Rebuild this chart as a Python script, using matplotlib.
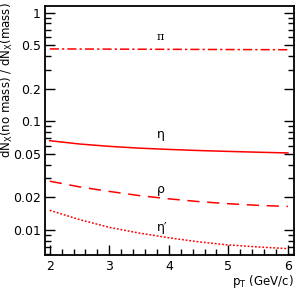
import matplotlib
matplotlib.use("Agg")
import matplotlib.pyplot as plt
import numpy as np
from matplotlib.ticker import FixedLocator, NullFormatter, MultipleLocator

pt = [2.0, 2.5, 3.0, 3.5, 4.0, 4.5, 5.0, 5.5, 6.0]
pi_ratio = [0.465, 0.464, 0.463, 0.462, 0.461, 0.460, 0.459, 0.458, 0.457]
eta_ratio = [0.0665, 0.0620, 0.0590, 0.0568, 0.0553, 0.0540, 0.0530, 0.0521, 0.0513]
rho_ratio = [0.0282, 0.0250, 0.0227, 0.0208, 0.0194, 0.0183, 0.0175, 0.0169, 0.0165]
etap_ratio = [0.0152, 0.0125, 0.0106, 0.0094, 0.0085, 0.0078, 0.0073, 0.0070, 0.00675]
labels = ["π", "η", "ρ", "η′"]
label_y = [0.60, 0.0755, 0.0236, 0.0106]
label_x = 3.8
yticks = [0.01, 0.02, 0.05, 0.1, 0.2, 0.5, 1]
yticklabels = ["0.01", "0.02", "0.05", "0.1", "0.2", "0.5", "1"]
xticks = [2, 3, 4, 5, 6]

fig = plt.figure(figsize=(2.97, 2.89), dpi=100)
ax = fig.add_axes([0.1515, 0.1176, 0.838, 0.861])
red = "#ff0000"
ax.plot(pt, pi_ratio, color=red, lw=1.1, linestyle=(0, (6, 2, 1.5, 2)))
ax.plot(pt, eta_ratio, color=red, lw=1.1, linestyle="-")
ax.plot(pt, rho_ratio, color=red, lw=1.1, linestyle=(0, (8, 5)))
ax.plot(pt, etap_ratio, color=red, lw=1.1, linestyle=(0, (1.2, 1.2)))

for i, (lab, ly) in enumerate(zip(labels, label_y)):
    if i == 0:
        ax.text(label_x, ly, lab, fontsize=8, ha="left", va="center", family="DejaVu Serif")
    else:
        ax.text(label_x, ly, lab, fontsize=9, ha="left", va="center")

ax.set_yscale("log")
ax.set_xlim(1.92, 6.1)
ax.set_ylim(0.0059, 1.15)
ax.yaxis.set_major_locator(FixedLocator(yticks))
ax.set_yticklabels(yticklabels)
minor = [v * m for v in [0.001, 0.01, 0.1, 1] for m in range(2, 10)]
ax.yaxis.set_minor_locator(FixedLocator(minor))
ax.yaxis.set_minor_formatter(NullFormatter())
ax.xaxis.set_major_locator(FixedLocator(xticks))
ax.xaxis.set_minor_locator(MultipleLocator(0.2))
ax.tick_params(axis="both", which="both", direction="in", labelsize=9)
ax.tick_params(axis="y", which="both", right=True, left=True)
ax.tick_params(axis="x", which="both", top=False)
ax.tick_params(which="major", length=7, width=1)
ax.tick_params(which="minor", length=4, width=1)
ax.tick_params(axis="y", which="major", pad=3)
for s in ax.spines.values():
    s.set_linewidth(1.3)

fig.text(7 / 297, 1 - 2 / 289, "dN$_\\mathregular{X}$(no mass) / dN$_\\mathregular{X}$(mass)",
         rotation=90, fontsize=8.5, ha="center", va="top")
ax.set_xlabel("p$_\\mathregular{T}$ (GeV/c)", fontsize=8.5)
ax.xaxis.set_label_coords(1.0, -0.072)
ax.xaxis.label.set_ha("right")

fig.savefig("out.png", dpi=100)
